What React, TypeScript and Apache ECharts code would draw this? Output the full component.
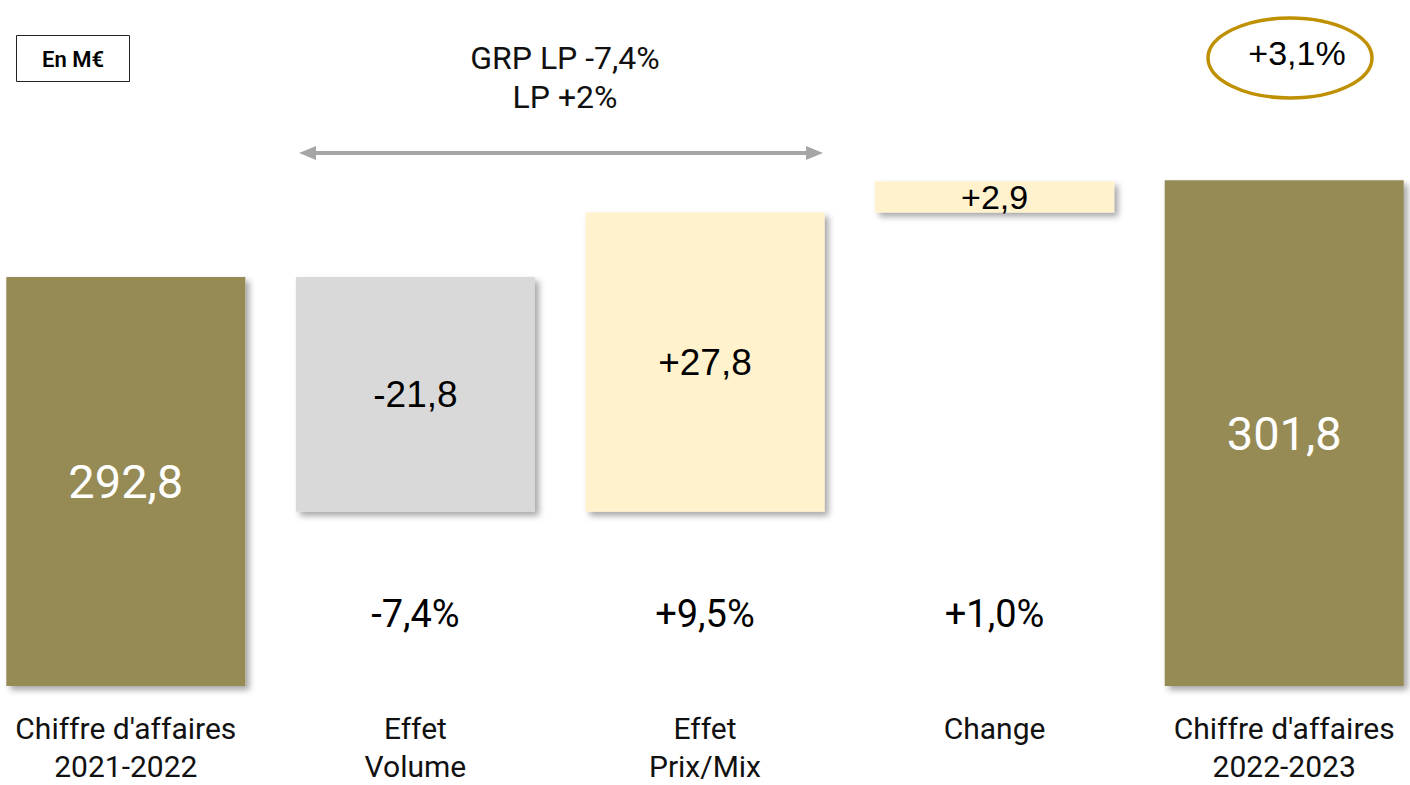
import React, { useEffect, useRef } from "react";
import * as echarts from "echarts";

const categories = ["Chiffre d'affaires\n2021-2022", "Effet\nVolume", "Effet\nPrix/Mix", "Change", "Chiffre d'affaires\n2022-2023"];
const stepValues = [292.8, -21.8, 27.8, 2.9, 301.8];
const isTotal = [true, false, false, false, true];
const percentLabels = ["", "-7,4%", "+9,5%", "+1,0%", ""];
const unitLabel = "En M€";
const noteLines = ["GRP LP -7,4%", "LP +2%"];
const growthLabel = "+3,1%";

const OLIVE = "#968A54";
const GREY = "#D9D9D9";
const CREAM = "#FFF2CC";

// the chart canvas is wider than the page and shifted left so bars align
const SHIFT = 19;

function fmt(v: number, signed: boolean) {
  const s = Math.abs(v).toFixed(1).replace(".", ",");
  if (!signed) return s;
  return (v < 0 ? "-" : "+") + s;
}

export default function App() {
  const ref = useRef<HTMLDivElement>(null);
  useEffect(() => {
    if (!ref.current) return;
    const chart = echarts.init(ref.current, null, { renderer: "svg" });

    const bases: number[] = [];
    const heights: number[] = [];
    let running = 0;
    stepValues.forEach((v, i) => {
      if (isTotal[i]) {
        bases.push(0);
        heights.push(v);
        running = v;
      } else if (v < 0) {
        running += v;
        bases.push(running);
        heights.push(-v);
      } else {
        bases.push(running);
        heights.push(v);
        running += v;
      }
    });

    const colors = stepValues.map((v, i) => (isTotal[i] ? OLIVE : v < 0 ? GREY : CREAM));
    const font = "Roboto, 'DejaVu Sans', sans-serif";
    const arial = "'Liberation Sans', Arial, sans-serif";
    const X = (x: number) => x + SHIFT;

    chart.setOption({
      animation: false,
      grid: { left: 0, right: 0, top: 92, bottom: 98 },
      xAxis: {
        type: "category",
        data: categories,
        axisLine: { show: false },
        axisTick: { show: false },
        axisLabel: {
          margin: 23,
          color: "#111",
          fontSize: 30,
          lineHeight: 38,
          fontFamily: font,
          interval: 0,
        },
      },
      yAxis: { type: "value", min: 254.8, max: 310, show: false, splitLine: { show: false } },
      series: [
        {
          type: "bar",
          stack: "w",
          data: bases,
          barWidth: 239,
          itemStyle: { color: "transparent" },
          silent: true,
        },
        {
          type: "bar",
          stack: "w",
          barWidth: 239,
          data: heights.map((h, i) => ({
            value: h,
            itemStyle: { color: colors[i] },
            label: {
              show: true,
              position: "inside",
              formatter: fmt(stepValues[i], !isTotal[i]),
              color: isTotal[i] ? "#fff" : "#000",
              fontSize: isTotal[i] ? 47 : i === 3 ? 34 : 37,
              fontFamily: isTotal[i] ? font : arial,
            },
          })),
          itemStyle: {
            shadowBlur: 6,
            shadowOffsetX: 4,
            shadowOffsetY: 4,
            shadowColor: "rgba(0,0,0,0.35)",
          },
        },
      ],
    });

    const pctGraphics = percentLabels
      .map((t, i) => {
        if (!t) return null;
        const x = chart.convertToPixel({ xAxisIndex: 0 }, i) as number;
        return {
          type: "text",
          x,
          y: 614,
          style: {
            text: t,
            fill: "#000",
            font: `38px ${font}`,
            align: "center",
            verticalAlign: "middle",
          },
        };
      })
      .filter(Boolean);

    chart.setOption({
      graphic: [
        {
          type: "rect",
          shape: { x: X(16.5), y: 35.5, width: 113, height: 46 },
          style: { fill: "#fff", stroke: "#222", lineWidth: 1 },
        },
        {
          type: "text",
          x: X(73),
          y: 59,
          style: {
            text: unitLabel,
            fill: "#000",
            font: `600 22px ${font}`,
            align: "center",
            verticalAlign: "middle",
          },
        },
        {
          type: "text",
          x: X(565),
          y: 58,
          style: {
            text: noteLines[0],
            fill: "#111",
            font: `32px ${font}`,
            align: "center",
            verticalAlign: "middle",
          },
        },
        {
          type: "text",
          x: X(565),
          y: 97,
          style: {
            text: noteLines[1],
            fill: "#111",
            font: `32px ${font}`,
            align: "center",
            verticalAlign: "middle",
          },
        },
        {
          type: "line",
          shape: { x1: X(310), y1: 153, x2: X(812), y2: 153 },
          style: { stroke: "#A6A6A6", lineWidth: 4 },
        },
        {
          type: "polygon",
          shape: { points: [[X(299), 153], [X(316), 146], [X(316), 160]] },
          style: { fill: "#A6A6A6" },
        },
        {
          type: "polygon",
          shape: { points: [[X(823), 153], [X(806), 146], [X(806), 160]] },
          style: { fill: "#A6A6A6" },
        },
        {
          type: "ellipse",
          shape: { cx: X(1290), cy: 58, rx: 82, ry: 40 },
          style: { fill: "#fff", stroke: "#BF9000", lineWidth: 3.5 },
        },
        {
          type: "text",
          x: X(1297),
          y: 53,
          style: {
            text: growthLabel,
            fill: "#000",
            font: `34px ${arial}`,
            align: "center",
            verticalAlign: "middle",
          },
        },
        ...pctGraphics,
      ],
    });

    return () => chart.dispose();
  }, []);

  return (
    <div
      style={{
        position: "absolute",
        left: 0,
        top: 0,
        width: 1410,
        height: 785,
        overflow: "hidden",
        background: "#fff",
      }}
    >
      <div
        ref={ref}
        style={{ position: "absolute", left: -SHIFT, top: 0, width: 1410 + 2 * SHIFT, height: 785 }}
      />
    </div>
  );
}
